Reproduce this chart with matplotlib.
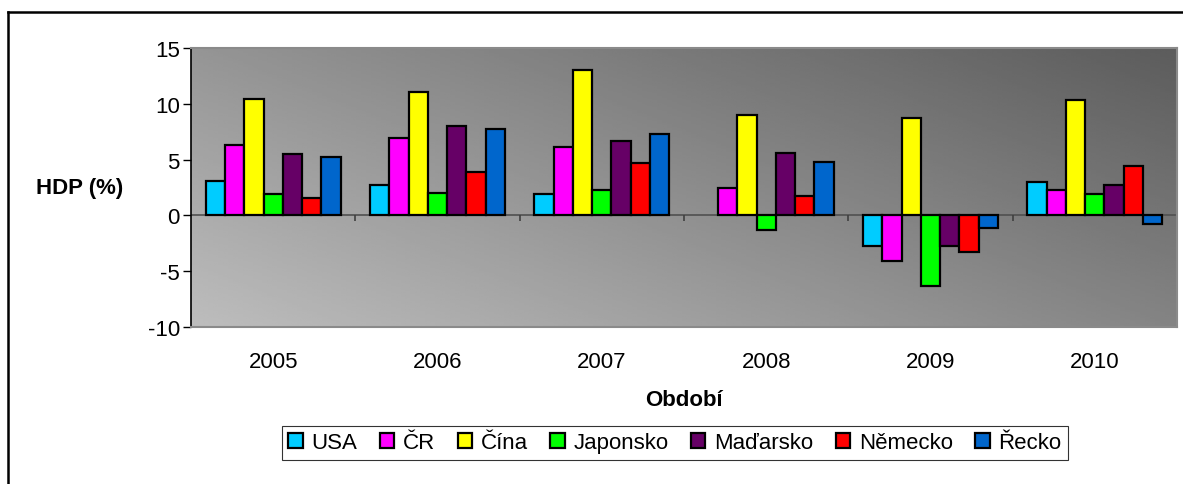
import numpy as np
import matplotlib.pyplot as plt
from matplotlib.lines import Line2D

# data (HDP growth, %)
years = ["2005", "2006", "2007", "2008", "2009", "2010"]
countries = ["USA", "ČR", "Čína", "Japonsko", "Maďarsko", "Německo", "Řecko"]
usa = [3.1, 2.7, 1.9, np.nan, -2.7, 3.0]
cr = [6.3, 6.9, 6.1, 2.5, -4.1, 2.3]
cina = [10.4, 11.1, 13.0, 9.0, 8.7, 10.3]
japonsko = [1.9, 2.0, 2.3, -1.3, -6.3, 1.9]
madarsko = [5.5, 8.0, 6.7, 5.6, -2.7, 2.7]
nemecko = [1.6, 3.9, 4.7, 1.7, -3.3, 4.4]
recko = [5.2, 7.7, 7.3, 4.8, -1.1, -0.8]
colors = ["#00CCFF", "#FF00FF", "#FFFF00", "#00FF00", "#660066", "#FF0000", "#0066CC"]

series = [usa, cr, cina, japonsko, madarsko, nemecko, recko]

plt.rcParams['font.family'] = ['Liberation Sans', 'DejaVu Sans']
plt.rcParams['axes.unicode_minus'] = False

fig = plt.figure(figsize=(11.83, 4.85), dpi=100)
ax = fig.add_axes([191 / 1183, 1 - 328 / 485, 986 / 1183, 279 / 485])

# gradient background of plot area (light bottom-left, dark top-right)
gx, gy = np.meshgrid(np.linspace(0, 1, 200), np.linspace(0, 1, 200))
grad = 189 - 57 * gx - 40 * gy
ax.imshow(grad, cmap='gray', vmin=0, vmax=255, extent=[0, 1, 0, 1],
          transform=ax.transAxes, origin='lower', aspect='auto', zorder=0)

n = len(series)
bw = 0.82 / n
x = np.arange(len(years))
for i, (vals, c, name) in enumerate(zip(series, colors, countries)):
    pos = x + 0.09 + bw * (i + 0.5)
    ax.bar(pos, vals, width=bw, color=c, edgecolor='black', linewidth=1.6,
           label=name, zorder=3)

ax.set_xlim(0, len(years))
ax.set_ylim(-10, 15)
ax.set_yticks([-10, -5, 0, 5, 10, 15])
ax.tick_params(axis='y', length=6, width=1, pad=2, labelsize=16, direction='out')
ax.set_xticks(x + 0.5)
ax.set_xticklabels(years)
ax.tick_params(axis='x', length=0, pad=17, labelsize=16)

# zero line with category tick marks
ax.axhline(0, color='#505050', lw=1.2, zorder=2)
ax.vlines(np.arange(1, len(years)), 0, -0.5, color='#404040', lw=1.2, zorder=2)

for s in ['top', 'right', 'bottom']:
    ax.spines[s].set_color('#8a8a8a')
    ax.spines[s].set_linewidth(1.5)
ax.spines['left'].set_color('black')
ax.spines['left'].set_linewidth(1.2)

fig.text(80 / 1183, 1 - 189 / 485, "HDP (%)", ha='center', va='center',
         fontsize=16, fontweight='bold')
fig.text(684 / 1183, 1 - 401 / 485, "Období", ha='center', va='center',
         fontsize=16, fontweight='bold')

leg = fig.legend(loc='center', bbox_to_anchor=(675 / 1183, 1 - 444 / 485), ncol=7,
                 fontsize=16, frameon=True, fancybox=False, edgecolor='black',
                 handlelength=0.65, handleheight=0.65, handletextpad=0.4,
                 columnspacing=1.0, borderpad=0.3)
leg.get_frame().set_linewidth(0.8)

# outer chart frame (top and left visible)
fig.add_artist(Line2D([8 / 1183, 8 / 1183], [0, 1 - 12.5 / 485], color='black',
                      lw=1.8, transform=fig.transFigure))
fig.add_artist(Line2D([8 / 1183, 1], [1 - 12.5 / 485, 1 - 12.5 / 485], color='black',
                      lw=1.8, transform=fig.transFigure))

fig.savefig("out.png", dpi=100)
